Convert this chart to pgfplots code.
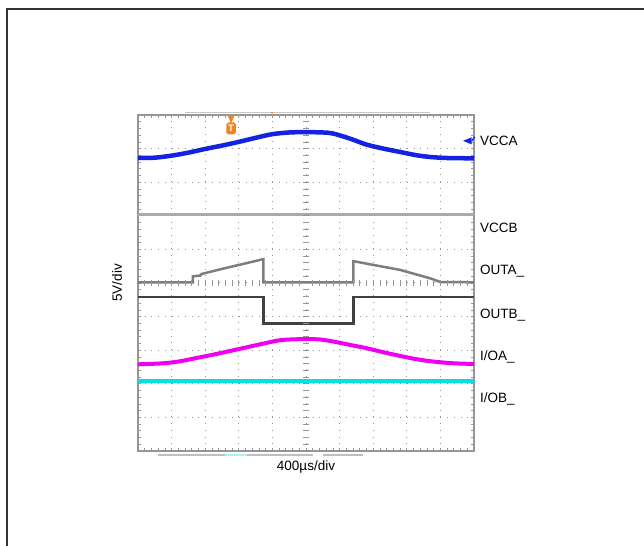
\documentclass[border=0pt]{standalone}
\usepackage{fontspec}
\setmainfont{Liberation Sans}
\usepackage{pgfplots}
\pgfplotsset{compat=1.18}
\usetikzlibrary{shapes.geometric}
\definecolor{vcca}{RGB}{20,35,225}
\definecolor{ioa}{RGB}{240,0,240}
\definecolor{iob}{RGB}{0,225,230}
\definecolor{gridc}{RGB}{150,150,150}
\definecolor{trig}{RGB}{245,130,30}
\definecolor{vccb}{RGB}{170,170,170}
\definecolor{outa}{RGB}{125,125,125}
\definecolor{outb}{RGB}{65,65,65}
\newcommand{\lbl}{\fontsize{13.5bp}{16bp}\selectfont}
\begin{document}
\begin{tikzpicture}
\useasboundingbox (0bp,0bp) rectangle (644bp,546bp);
\draw[line width=2bp, black!80] (7bp,-10bp) -- (7bp,537bp) -- (660bp,537bp);
\begin{axis}[
  at={(138bp,95bp)}, anchor=south west,
  scale only axis, width=336bp, height=336bp,
  xmin=0, xmax=10, ymin=0, ymax=10,
  xtick={0,...,10}, ytick={0,...,10},
  xticklabels={}, yticklabels={},
  minor x tick num=4, minor y tick num=4,
  xtick pos=both, ytick pos=both, tick align=inside,
  major tick length=3bp, minor tick length=3bp,
  tick style={gridc, line width=0.7bp},
  grid=major,
  major grid style={gridc, line width=1bp, dash pattern=on 1bp off 5.72bp},
  axis line style={gridc, line width=1.6bp},
  clip=false,
  xlabel={400µs/div},
  ylabel={5V/div},
  label style={font=\lbl},
  xlabel style={at={(axis description cs:0.5,-0.0595)}, anchor=base},
  ylabel style={at={(axis description cs:-0.0625,0.5)}, anchor=center},
]
% centre rulers
\addplot[only marks, mark=-, mark size=3bp, mark options={gridc, line width=0.7bp}, forget plot] coordinates {
 (5,0.2)(5,0.4)(5,0.6)(5,0.8)(5,1.2)(5,1.4)(5,1.6)(5,1.8)(5,2.2)(5,2.4)(5,2.6)(5,2.8)
 (5,3.2)(5,3.4)(5,3.6)(5,3.8)(5,4.2)(5,4.4)(5,4.6)(5,4.8)(5,5.2)(5,5.4)(5,5.6)(5,5.8)
 (5,6.2)(5,6.4)(5,6.6)(5,6.8)(5,7.2)(5,7.4)(5,7.6)(5,7.8)(5,8.2)(5,8.4)(5,8.6)(5,8.8)
 (5,9.2)(5,9.4)(5,9.6)(5,9.8)
 (5,1)(5,2)(5,3)(5,4)(5,6)(5,7)(5,8)(5,9)};
\addplot[only marks, mark=|, mark size=3bp, mark options={gridc, line width=0.7bp}, forget plot] coordinates {
 (0.2,5)(0.4,5)(0.6,5)(0.8,5)(1.2,5)(1.4,5)(1.6,5)(1.8,5)(2.2,5)(2.4,5)(2.6,5)(2.8,5)
 (3.2,5)(3.4,5)(3.6,5)(3.8,5)(4.2,5)(4.4,5)(4.6,5)(4.8,5)(5.2,5)(5.4,5)(5.6,5)(5.8,5)
 (6.2,5)(6.4,5)(6.6,5)(6.8,5)(7.2,5)(7.4,5)(7.6,5)(7.8,5)(8.2,5)(8.4,5)(8.6,5)(8.8,5)
 (9.2,5)(9.4,5)(9.6,5)(9.8,5)
 (1,5)(2,5)(3,5)(4,5)(6,5)(7,5)(8,5)(9,5)};
% faint status bars
\addplot[gray!45, line width=1.3bp, forget plot] coordinates {(1.4,10.07)(8.69,10.07)};
\addplot[gray!50, line width=1.5bp, forget plot] coordinates {(0.6,-0.12)(2.59,-0.12)};
\addplot[iob!35, line width=1.5bp, forget plot] coordinates {(2.59,-0.12)(3.24,-0.12)};
\addplot[gray!50, line width=1.5bp, forget plot] coordinates {(3.24,-0.12)(5.21,-0.12)};
\addplot[gray!50, line width=1.5bp, forget plot] coordinates {(5.51,-0.12)(6.7,-0.12)};
% traces
\addplot[vccb, line width=3bp] coordinates {(0,7.04)(10,7.04)};
\addplot[outa, line width=2.5bp] coordinates {
 (0,5.02)(1.63,5.02)(1.63,5.2)(1.85,5.22)(1.9,5.27)(2.5,5.42)(3.1,5.56)(3.73,5.71)(3.73,5.02)
 (6.41,5.02)(6.41,5.65)(7.1,5.52)(7.8,5.39)(8.3,5.25)(8.69,5.14)(9.0,5.03)(10,5.02)};
\addplot[outb, line width=2.5bp] coordinates {
 (0,4.59)(3.73,4.59)(3.73,3.80)(6.41,3.80)(6.41,4.59)(10,4.59)};
\addplot[iob, line width=3.5bp] coordinates {(0,2.09)(10,2.09)};
\addplot[ioa, line width=4bp, smooth] coordinates {
 (0,2.58)(0.75,2.61)(1.25,2.67)(1.75,2.77)(2.25,2.87)(2.75,2.98)(3.25,3.09)(3.75,3.2)
 (4.25,3.3)(4.9,3.33)(5.4,3.32)(5.8,3.26)(6.3,3.16)(6.8,3.06)(7.3,2.94)(7.8,2.83)
 (8.3,2.73)(8.8,2.66)(9.4,2.61)(10,2.59)};
\addplot[vcca, line width=4.5bp, smooth] coordinates {
 (0,8.72)(0.5,8.73)(1.0,8.79)(1.5,8.88)(2.0,8.99)(2.5,9.09)(3.0,9.2)(3.5,9.32)(4.0,9.43)
 (4.5,9.48)(5.0,9.49)(5.5,9.48)(5.8,9.45)(6.3,9.3)(6.8,9.12)(7.3,9.0)(7.8,8.9)(8.3,8.8)
 (8.7,8.75)(9.2,8.72)(10,8.71)};
% channel marker and trigger marker
\node[fill=vcca, isosceles triangle, shape border rotate=180, inner sep=0pt,
      minimum width=7bp, minimum height=4.5bp, anchor=west] (chm) at (axis cs:9.66,9.23) {};
\draw[vcca, line width=1.3bp] (chm.east) -- ++(3bp,0);
\node[fill=trig, isosceles triangle, shape border rotate=-90, inner sep=0pt,
      minimum width=7bp, minimum height=5bp, anchor=north] at (axis cs:2.77,10) {};
\node[fill=trig, text=white, inner sep=0.8bp, rounded corners=1.8bp, font=\fontsize{9.5bp}{10bp}\selectfont\bfseries,
      minimum width=9.5bp, minimum height=12bp] at (axis cs:2.77,9.6) {T};
\fill[trig] (axis cs:3.99,10.07) circle (1bp);
% labels
\node[anchor=base west, font=\lbl] at (axis cs:10.08,9.107) {VCCA};
\node[anchor=base west, font=\lbl] at (axis cs:10.08,6.488) {VCCB};
\node[anchor=base west, font=\lbl] at (axis cs:10.08,5.238) {OUTA\_};
\node[anchor=base west, font=\lbl] at (axis cs:10.08,3.958) {OUTB\_};
\node[anchor=base west, font=\lbl] at (axis cs:10.08,2.679) {I/OA\_};
\node[anchor=base west, font=\lbl] at (axis cs:10.08,1.458) {I/OB\_};
\end{axis}
\end{tikzpicture}
\end{document}
